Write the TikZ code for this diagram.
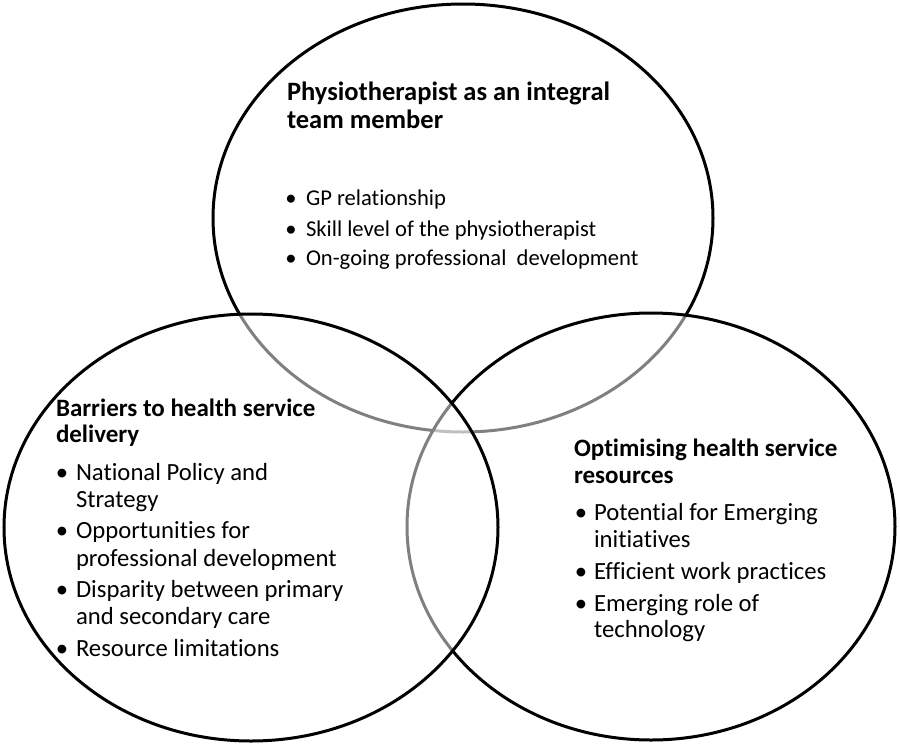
\documentclass[tikz,border=0pt]{standalone}
\usepackage{fontspec}
\setmainfont[Ligatures={NoCommon,NoRare,NoContextual}]{Carlito}
\begin{document}
\begin{tikzpicture}[x=1pt,y=-1pt,
  ring/.style={draw=black,line width=3pt,fill=white,fill opacity=0.5},
  txt/.style={anchor=base west,inner sep=0pt,outer sep=0pt,font=\fontsize{24.7}{30}\selectfont},
  ttl/.style={anchor=base west,inner sep=0pt,outer sep=0pt,font=\fontsize{25}{30}\selectfont\bfseries},
  bul/.style={anchor=base,inner sep=0pt,outer sep=0pt,font=\fontsize{24.7}{30}\selectfont},
  ttxt/.style={txt,font=\fontsize{22.6}{28}\selectfont},
  tttl/.style={ttl,font=\fontsize{26.5}{30}\selectfont\bfseries},
  tbul/.style={bul,font=\fontsize{22.6}{28}\selectfont}]
\useasboundingbox (0,0) rectangle (900,744);
\fill[white] (0,0) rectangle (900,744);
% circles: top, right, left (order gives the grey look of covered arcs)
\draw[ring] (463,218) ellipse [x radius=250, y radius=214];
\draw[ring] (651,526.5) ellipse [x radius=244, y radius=213.5];
\draw[ring] (251,527.5) ellipse [x radius=247, y radius=213.5];
% top set
\node[tttl] (t1) at (287,100) {Physiotherapist as an integral};
\node[tttl] (t2) at (287,128) {team member};
\node[tbul] (tb1) at (291,205) {\textbullet};
\node[ttxt] (ti1) at (306,205) {GP relationship};
\node[tbul] (tb2) at (291,236) {\textbullet};
\node[ttxt] (ti2) at (306,236) {Skill level of the physiotherapist};
\node[tbul] (tb3) at (291,265) {\textbullet};
\node[ttxt] (ti3) at (306,265) {On-going professional\ \ development};
% left set
\node[ttl] (l1) at (56,416) {Barriers to health service};
\node[ttl] (l2) at (56,442) {delivery};
\node[bul] (lb1) at (62,480) {\textbullet};
\node[txt] (li1) at (76,480) {National Policy and};
\node[txt] (li1b) at (76,507) {Strategy};
\node[bul] (lb2) at (62,538) {\textbullet};
\node[txt] (li2) at (76,538) {Opportunities for};
\node[txt] (li2b) at (76,566) {professional development};
\node[bul] (lb3) at (62,597) {\textbullet};
\node[txt] (li3) at (76,597) {Disparity between primary};
\node[txt] (li3b) at (76,624) {and secondary care};
\node[bul] (lb4) at (62,656) {\textbullet};
\node[txt] (li4) at (76,656) {Resource limitations};
% right set
\node[ttl] (r1) at (574,456) {Optimising health service};
\node[ttl] (r2) at (574,483) {resources};
\node[bul] (rb1) at (581,520) {\textbullet};
\node[txt] (ri1) at (594,520) {Potential for Emerging};
\node[txt] (ri1b) at (594,547) {initiatives};
\node[bul] (rb2) at (581,579) {\textbullet};
\node[txt] (ri2) at (594,579) {Efficient work practices};
\node[bul] (rb3) at (581,611) {\textbullet};
\node[txt] (ri3) at (594,611) {Emerging role of};
\node[txt] (ri3b) at (594,637) {technology};
\end{tikzpicture}
\end{document}
